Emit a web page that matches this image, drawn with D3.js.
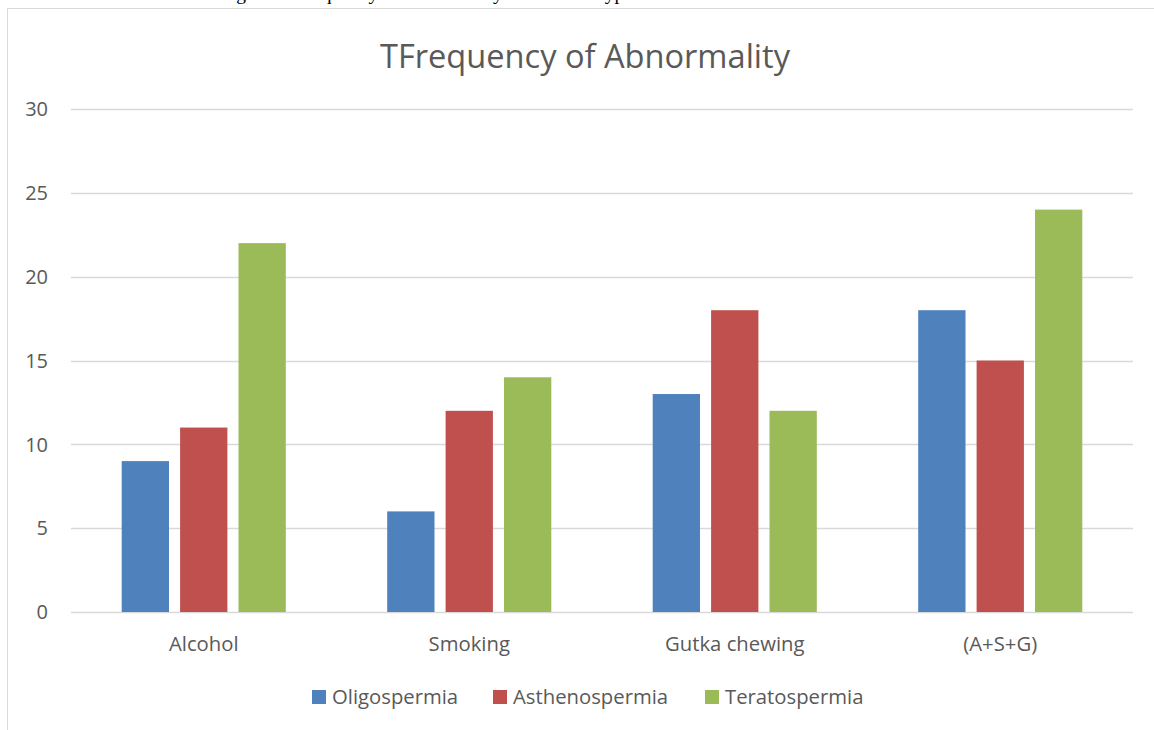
<!DOCTYPE html>
<html>
<head>
<meta charset="utf-8">
<script src="https://cdn.jsdelivr.net/npm/d3@7"></script>
<style>
  html, body { margin: 0; padding: 0; background: #fff; }
  svg { display: block; }
  text { font-family: "Open Sans", "Noto Sans", sans-serif; fill: #595959; }
</style>
</head>
<body>
<svg id="chart" width="1154" height="730"></svg>
<script>
const categories = ["Alcohol", "Smoking", "Gutka chewing", "(A+S+G)"];
const seriesNames = ["Oligospermia", "Asthenospermia", "Teratospermia"];
const oligospermia = [9, 6, 13, 18];
const asthenospermia = [11, 12, 18, 15];
const teratospermia = [22, 14, 12, 24];
const yTicks = [0, 5, 10, 15, 20, 25, 30];
const colors = ["#4f81bd", "#c0504d", "#9bbb59"];
const title = "TFrequency of Abnormality";
const caption = "Figure 1: Frequency of Abnormality in different types";

const seriesValues = [oligospermia, asthenospermia, teratospermia];

const svg = d3.select("#chart");

// caption above the chart frame (cut off by the top edge, as in the source)
svg.append("text")
  .attr("x", 220).attr("y", -0.5)
  .style("font-family", "'Liberation Serif', 'Times New Roman', serif")
  .style("font-size", "19.5px")
  .style("fill", "#000")
  .text(caption);

// chart frame
svg.append("rect")
  .attr("x", 7.5).attr("y", 8.5)
  .attr("width", 1160).attr("height", 740)
  .attr("fill", "none").attr("stroke", "#d9d9d9").attr("stroke-width", 1);

const plot = { left: 71, right: 1133, top: 109, bottom: 612 };

const x0 = d3.scaleBand().domain(categories).range([plot.left, plot.right]).padding(0);
const groupPad = 50.7;
const x1 = d3.scaleBand().domain(seriesNames)
  .range([groupPad, x0.bandwidth() - groupPad])
  .paddingInner(0.19).paddingOuter(0);
const y = d3.scaleLinear().domain([0, 30]).range([plot.bottom, plot.top]);

// gridlines
svg.append("g").selectAll("line").data(yTicks).join("line")
  .attr("x1", plot.left).attr("x2", plot.right)
  .attr("y1", d => Math.round(y(d)) + 0.5).attr("y2", d => Math.round(y(d)) + 0.5)
  .attr("stroke", "#d9d9d9").attr("stroke-width", 1.3);

// y tick labels
svg.append("g").selectAll("text").data(yTicks).join("text")
  .attr("x", 48).attr("y", d => y(d))
  .attr("dy", "0.36em")
  .attr("text-anchor", "end")
  .style("font-size", "20px")
  .text(d => d);

// bars
const rows = [];
categories.forEach((c, i) => {
  seriesNames.forEach((s, j) => rows.push({ cat: c, series: s, value: seriesValues[j][i], color: colors[j] }));
});
svg.append("g").selectAll("rect").data(rows).join("rect")
  .attr("x", d => x0(d.cat) + x1(d.series))
  .attr("width", x1.bandwidth())
  .attr("y", d => y(d.value))
  .attr("height", d => y(0) - y(d.value))
  .attr("fill", d => d.color);

// category labels
svg.append("g").selectAll("text").data(categories).join("text")
  .attr("x", d => x0(d) + x0.bandwidth() / 2)
  .attr("y", 651)
  .attr("text-anchor", "middle")
  .style("font-size", "20.3px")
  .text(d => d);

// title
svg.append("text")
  .attr("x", 585).attr("y", 68)
  .attr("text-anchor", "middle")
  .style("font-size", "32.6px")
  .text(title);

// legend
const legendX = [312, 493, 705];
const lg = svg.append("g").selectAll("g").data(seriesNames).join("g")
  .attr("transform", (d, i) => `translate(${legendX[i]},0)`);
lg.append("rect").attr("x", 0).attr("y", 690).attr("width", 14).attr("height", 14)
  .attr("fill", (d, i) => colors[i]);
lg.append("text").attr("x", 20).attr("y", 704)
  .style("font-size", "20.3px")
  .text(d => d);
</script>
</body>
</html>
